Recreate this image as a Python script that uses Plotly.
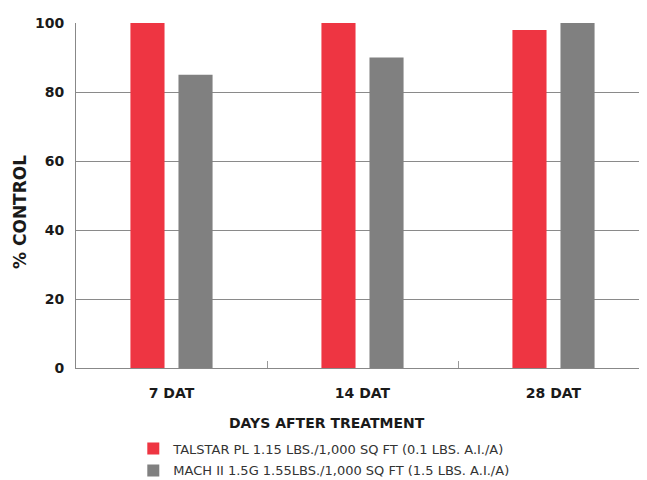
import plotly.graph_objects as go

categories = ["7 DAT", "14 DAT", "28 DAT"]
talstar = [100, 100, 98]
mach = [85, 90, 100]
series_names = ["TALSTAR PL 1.15 LBS./1,000 SQ FT (0.1 LBS. A.I./A)",
                "MACH II 1.5G 1.55LBS./1,000 SQ FT (1.5 LBS. A.I./A)"]
y_ticks = [0, 20, 40, 60, 80, 100]
x_title = "DAYS AFTER TREATMENT"
y_title = "% CONTROL"

FONT = "DejaVu Sans"

fig = go.Figure()
fig.add_trace(go.Bar(x=categories, y=talstar, name=series_names[0], legendgroup="a",
                     marker=dict(color="#EE3542", line=dict(width=0))))
fig.add_trace(go.Bar(x=categories, y=mach, name=series_names[1], legendgroup="b",
                     marker=dict(color="#808080", line=dict(width=0))))

fig.update_layout(
    width=641, height=472,
    margin=dict(l=68, r=0, t=15, b=112, autoexpand=False),
    paper_bgcolor="white", plot_bgcolor="white",
    barmode="group", bargap=0.497, bargroupgap=0.29,
    font=dict(family=FONT, color="#1a1a1a"),
    showlegend=True,
    legend=dict(orientation="v", x=0.1, xanchor="left", y=-0.19, yanchor="top",
                font=dict(size=13, color="#333333"), tracegroupgap=2,
                bgcolor="rgba(0,0,0,0)"),
    xaxis=dict(
        tickfont=dict(size=14, color="#1a1a1a", weight="bold"),
        tickson="boundaries", ticks="inside", ticklen=7, tickcolor="#999999",
        showline=True, linecolor="#888888", linewidth=1,
        showgrid=False, zeroline=False, ticklabelstandoff=12,
        range=[-0.5, 2.5], fixedrange=True,
    ),
    yaxis=dict(
        tickvals=y_ticks, range=[0, 100],
        tickfont=dict(size=14, color="#1a1a1a", weight="bold"),
        showgrid=True, gridcolor="#8a8a8a", gridwidth=1,
        showline=True, linecolor="#888888", linewidth=1,
        zeroline=False, ticks="", ticklabelstandoff=8,
    ),
    annotations=[
        dict(text="<b>" + x_title + "</b>", xref="paper", yref="paper",
             x=(327 - 76) / 573, y=-(423 - 368) / 345, xanchor="center", yanchor="middle",
             showarrow=False, font=dict(size=14, color="#1a1a1a")),
        dict(text="<b>" + y_title + "</b>", xref="paper", yref="paper",
             x=-(76 - 20) / 573, y=1 - (212 - 23) / 345, xanchor="center", yanchor="middle",
             textangle=-90, showarrow=False, font=dict(size=17, color="#1a1a1a")),
    ],
)

fig.write_html("out.html")
